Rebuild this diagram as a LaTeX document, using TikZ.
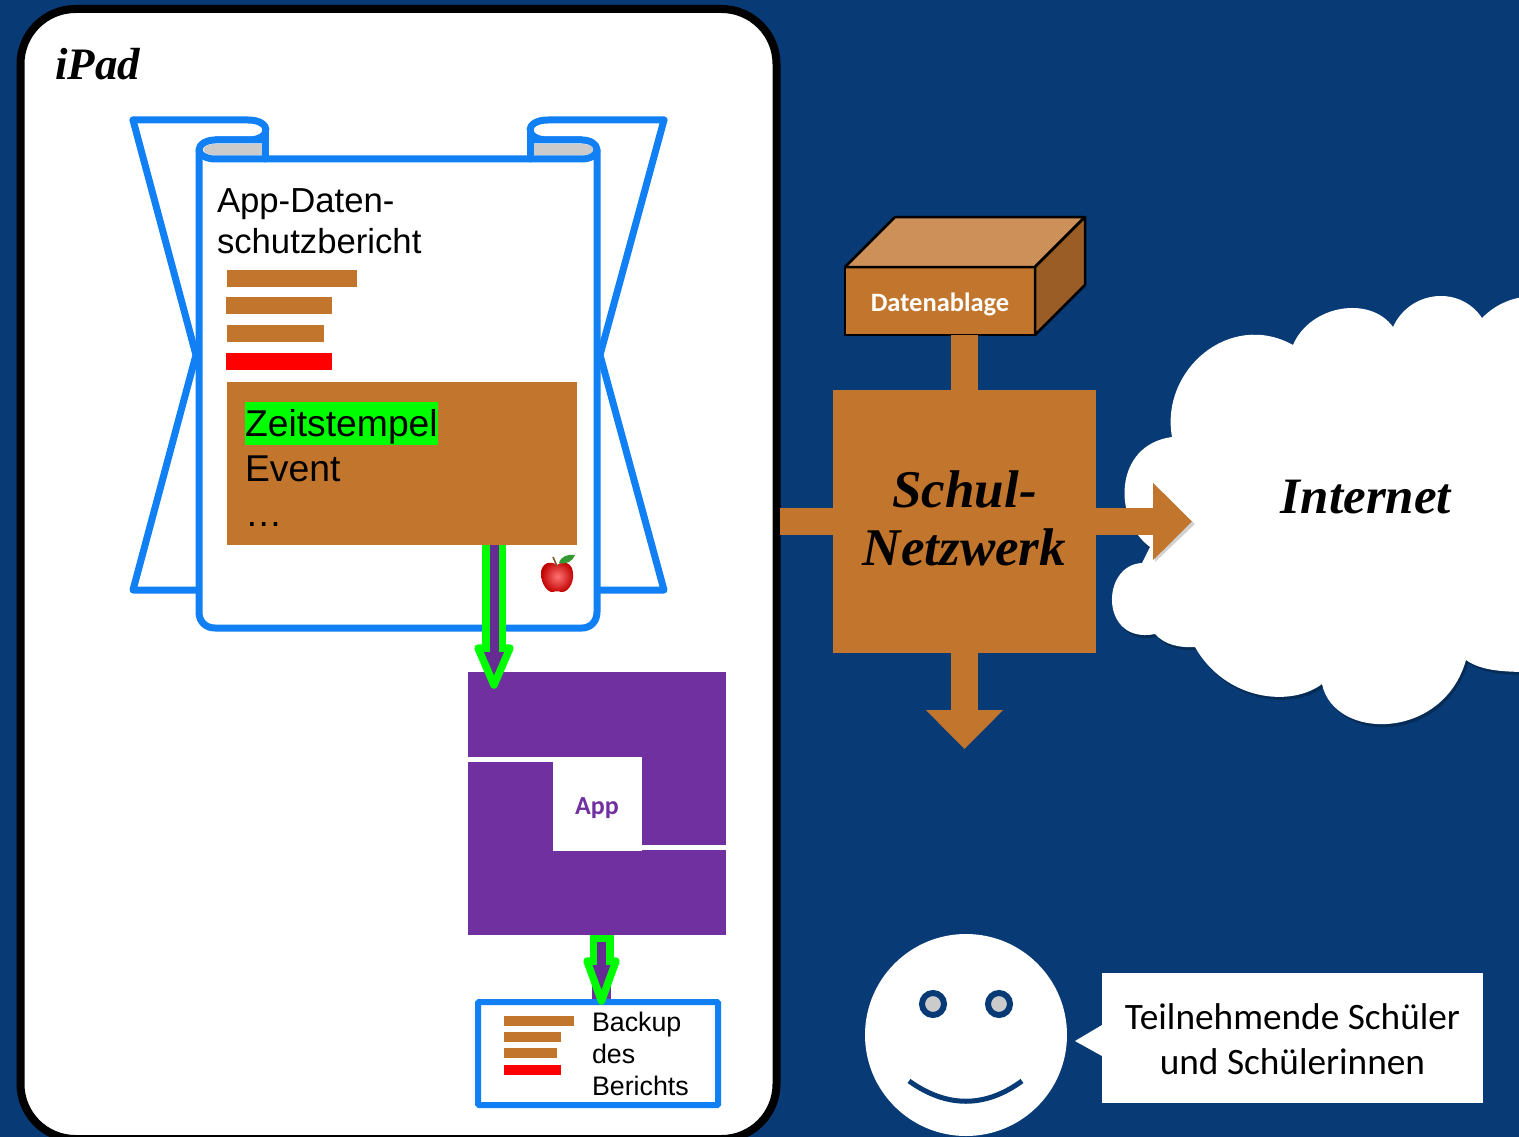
\documentclass[tikz,border=0pt]{standalone}
\usepackage{fontspec}
\setmainfont{Liberation Sans}
\newfontfamily\handfont{Liberation Serif}
\newfontfamily\carlito{Carlito}
\usetikzlibrary{positioning,arrows.meta,calc}
\definecolor{nightblue}{RGB}{8,59,117}
\definecolor{sheetblue}{RGB}{18,128,245}
\definecolor{softbrown}{RGB}{194,117,44}
\definecolor{topbrown}{RGB}{204,144,88}
\definecolor{sidebrown}{RGB}{155,93,38}
\definecolor{apppurple}{RGB}{112,48,160}
\definecolor{lightgreen}{RGB}{0,255,0}
\definecolor{rollgray}{RGB}{203,203,203}
\newcommand{\pxfont}[1]{\fontsize{#1}{#1}\selectfont}

\begin{document}
\begin{tikzpicture}[
    x=1pt, y=-1pt,
    sheet/.style={draw=sheetblue, line width=7pt, line join=round, line cap=round, fill=white},
    bar/.style={fill=softbrown},
    redbar/.style={fill=red},
    filled/.style={rectangle, inner sep=0pt, outer sep=0pt, fill=#1},
    plain/.style={inner sep=0pt, outer sep=0pt, anchor=base west, align=left},
    hand/.style={inner sep=0pt, align=center, font=\handfont\bfseries\itshape\pxfont{#1}},
    faceline/.style={draw=black, line width=2.5pt, line join=round},
    link/.style={softbrown, line width=27pt},
    linkarrow/.style={softbrown, line width=27pt, -{Triangle[length=39pt,width=75pt]}},
    greenshaft/.style={lightgreen, line width=24pt},
    purpleshaft/.style={apppurple!92!black, line width=9pt},
    greenhead/.style={draw=lightgreen, fill=apppurple!92!black, line width=7.5pt, line join=round}
]
\useasboundingbox (0,0) rectangle (1519,1137);
\clip (0,0) rectangle (1519,1137);
\fill[nightblue] (0,0) rectangle (1519,1137);

% iPad frame
\node[filled=white, draw=black, line width=8pt, rounded corners=55pt, minimum width=756pt, minimum height=1130pt] (ipad) at (398.5,574) {};
\node[hand=45, anchor=base west] (ipadlabel) at (55,80) {iPad};

% report sheet
\draw[sheet] (133,120) -- (196,355) -- (133,590) -- (199,590);
\draw[sheet] (664,120) -- (600,355) -- (664,590) -- (597,590);
\draw[sheet] (133,120) -- (248,120) .. controls (272,120) and (272,140) .. (248,140) -- (215,140);
\draw[sheet] (664,120) -- (548,120) .. controls (524,120) and (524,140) .. (548,140) -- (582,140);
\draw[sheet] (199,150) .. controls (199,144) and (207,140) .. (215,140) -- (582,140) .. controls (590,140) and (597,144) .. (597,150)
    -- (597,612) .. controls (597,622) and (590,628) .. (582,628) -- (215,628) .. controls (206,628) and (199,622) .. (199,612) -- cycle;
\fill[white] (266,130) rectangle (530,155);
\fill[rollgray] (262,144) -- (215,144) .. controls (200,144) and (200,155) .. (215,155) -- (262,155) -- cycle;
\fill[rollgray] (534,144) -- (582,144) .. controls (597,144) and (597,155) .. (582,155) -- (534,155) -- cycle;
\draw[sheet, fill=none] (199,150) .. controls (199,155) and (207,159) .. (215,159) -- (582,159) .. controls (590,159) and (597,155) .. (597,150);
\draw[sheet, fill=none] (265,130) -- (265,159);
\draw[sheet, fill=none] (530,130) -- (530,159);

\node[plain, font=\pxfont{34.7}] (title1) at (217,212) {App-Daten-};
\node[plain, font=\pxfont{34.7}] (title2) at (217,253) {schutzbericht};
\fill[bar] (227,270) rectangle (357,287);
\fill[bar] (226,297) rectangle (332,314);
\fill[bar] (227,325) rectangle (324,342);
\fill[redbar] (226,353) rectangle (332,370);

\node[filled=softbrown, minimum width=350pt, minimum height=163pt] (entry) at (402,463.5) {};
\node[plain, font=\pxfont{37.3}, fill=lightgreen, text height=34pt, text depth=9pt] (stamp) at (245,436) {Zeitstempel};
\node[plain, font=\pxfont{37.3}] (event) at (245,481) {Event};
\node[plain, font=\pxfont{37.3}] (more) at (245,526) {…};

% apple
\shade[inner color=red!55!white, outer color=red!75!black] (557,565) .. controls (550,560) and (541,563) .. (541,574)
    .. controls (541,584) and (548,593) .. (553,592) .. controls (555,591) and (559,591) .. (561,592)
    .. controls (567,593) and (574,584) .. (573,574) .. controls (573,563) and (564,560) .. (557,565) -- cycle;
\draw[brown!70!black, line width=1.6pt] (553,557) -- (557,566);
\fill[green!50!black!80] (559,563) .. controls (561,556) and (568,554) .. (575,555) .. controls (573,561) and (566,565) .. (559,563) -- cycle;

% app block
\node[filled=apppurple, minimum width=258pt, minimum height=263pt] (appblock) at (597,803.5) {};
\fill[white] (468,757) rectangle (553,762);
\fill[white] (641,845) rectangle (726,850);
\node[filled=white, minimum width=89pt, minimum height=94pt, text=apppurple, text height=23pt, text depth=2pt, font=\carlito\bfseries\pxfont{26}] (applabel) at (597,803.5) {App};

% backup box
\node[rectangle, draw=sheetblue, fill=white, line width=6pt, rounded corners=1pt, minimum width=240pt, minimum height=103pt, inner sep=0pt] (backup) at (598,1053.5) {};
\coordinate (headone) at (494,648);
\coordinate (headtwo) at (601.5,961);
\draw[apppurple, line width=19pt] (appblock.south -| headtwo) -- (backup.north -| headtwo);
\fill[bar] (504,1016) rectangle (574,1026);
\fill[bar] (504,1032) rectangle (561,1042);
\fill[bar] (504,1048) rectangle (557,1058);
\fill[redbar] (504,1065) rectangle (561,1075);
\node[plain, font=\pxfont{26.8}] (backup1) at (592,1031) {Backup};
\node[plain, font=\pxfont{26.8}] (backup2) at (592,1063) {des};
\node[plain, font=\pxfont{26.8}] (backup3) at (592,1095) {Berichts};

% green arrows
\draw[greenshaft] (entry.south -| headone) -- (headone);
\draw[greenhead] (478,648) -- (510,648) -- (494,685) -- cycle;
\draw[purpleshaft] (entry.south -| headone) -- ($(headone)+(0,8)$);
\draw[greenshaft] (appblock.south -| headtwo) -- (headtwo);
\draw[greenhead] (587,961) -- (616,961) -- (601.5,1001) -- cycle;
\draw[purpleshaft] ($(appblock.south -| headtwo)+(0,7)$) -- ($(headtwo)+(0,8)$);

% cloud
\draw[fill=black, draw=none, opacity=.25, shift={(2,3)}] (1172,437) .. controls (1160,370) and (1230,310) .. (1293,345)
    .. controls (1310,305) and (1370,295) .. (1393,327) .. controls (1410,290) and (1460,285) .. (1482,318)
    .. controls (1495,305) and (1510,298) .. (1530,296) -- (1530,672) .. controls (1500,672) and (1480,670) .. (1466,660)
    .. controls (1443,741) and (1334,741) .. (1322,684) .. controls (1290,708) and (1225,700) .. (1195,647)
    .. controls (1180,648) and (1165,645) .. (1155,634) .. controls (1100,645) and (1100,565) .. (1142,563)
    -- (1150,547) .. controls (1113,520) and (1113,445) .. (1172,437) -- cycle;
\fill[white] (1172,437) .. controls (1160,370) and (1230,310) .. (1293,345)
    .. controls (1310,305) and (1370,295) .. (1393,327) .. controls (1410,290) and (1460,285) .. (1482,318)
    .. controls (1495,305) and (1510,298) .. (1530,296) -- (1530,672) .. controls (1500,672) and (1480,670) .. (1466,660)
    .. controls (1443,741) and (1334,741) .. (1322,684) .. controls (1290,708) and (1225,700) .. (1195,647)
    .. controls (1180,648) and (1165,645) .. (1155,634) .. controls (1100,645) and (1100,565) .. (1142,563)
    -- (1150,547) .. controls (1113,520) and (1113,445) .. (1172,437) -- cycle;
\node[hand=51] (internet) at (1366,497) {Internet};

% network
\node[filled=softbrown, minimum width=263pt, minimum height=263pt] (netz) at (964.5,521.5) {};
\node[hand=53, text=black] (netzlabel) at (964.5,518) {Schul-\\[5pt]Netzwerk};
\node[filled=softbrown, draw=black, line width=2.5pt, minimum width=190pt, minimum height=68pt, text=white, text height=22pt, text depth=2pt, font=\carlito\bfseries\pxfont{26.5}] (store) at (940,301) {Datenablage};
\draw[faceline, fill=topbrown] (store.north west) -- (895,217) -- (1085,217) -- (store.north east) -- cycle;
\draw[faceline, fill=sidebrown] (store.north east) -- (1085,217) -- (1085,285) -- (store.south east) -- cycle;
\coordinate (lanend) at (780,521.5);
\coordinate (cloudtip) at (1192,521.5);
\coordinate (downtip) at (964.5,749);
\draw[link] (store.south -| netz) -- (netz.north);
\draw[link] (lanend) -- (netz.west);
\fill[black, opacity=.18] (1155,487) -- (1195,524) -- (1155,562) -- cycle;
\draw[linkarrow] (netz.east) -- (cloudtip);
\draw[linkarrow] (netz.south) -- (downtip);

% student
\node[circle, fill=white, minimum size=202pt, inner sep=0pt] (face) at (966,1035) {};
\node[circle, fill=rollgray, draw=nightblue, line width=6pt, minimum size=22pt, inner sep=0pt] (eyeleft) at (933,1004) {};
\node[circle, fill=rollgray, draw=nightblue, line width=6pt, minimum size=22pt, inner sep=0pt] (eyeright) at (999,1004) {};
\draw[nightblue, line width=5pt] (909,1081) .. controls (947,1108) and (985,1108) .. (1022,1081);
\node[filled=white, minimum width=381pt, minimum height=130pt] (bubble) at (1292.5,1038) {};
\node[inner sep=0pt, align=center, font=\carlito\pxfont{37.3}] (bubbletext) at (1292.5,1039) {Teilnehmende Schüler\\[8pt]und Schülerinnen};
\coordinate (pointer) at (1075,1041);
\fill[white] (pointer) -- (1102,1025) -- (1102,1056) -- cycle;
\end{tikzpicture}
\end{document}
